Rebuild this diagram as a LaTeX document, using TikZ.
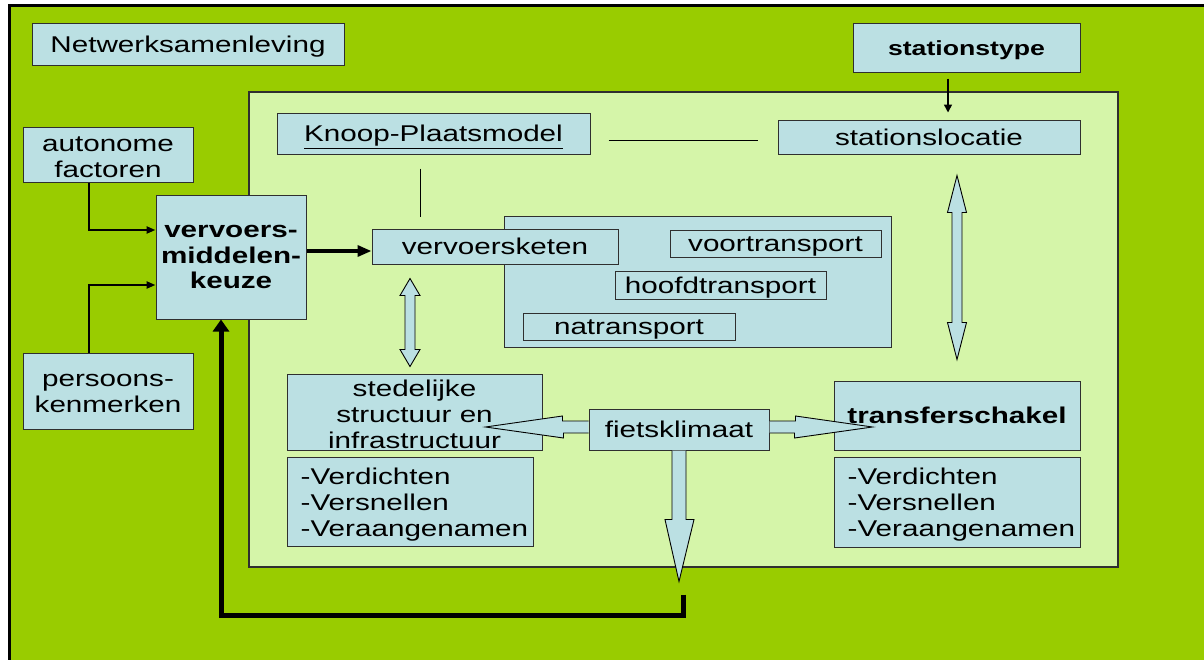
\documentclass[tikz,border=0pt]{standalone}
\usepackage{fontspec}
\setmainfont{Liberation Sans}[FakeStretch=1.3]
\usetikzlibrary{calc,arrows.meta}
\definecolor{outergreen}{HTML}{99CC00}
\definecolor{panelgreen}{HTML}{D5F5A9}
\definecolor{boxblue}{HTML}{BBE0E3}
\definecolor{boxline}{HTML}{2F2F2F}
\newcommand\vdblarrow[5]{%
  \draw[blockarrow] (#1) -- ++(#4,#5) -- ++({#3-#4},0) -- ($(#2)+(#3,-#5)$)
    -- ++({#4-#3},0) -- (#2) -- ++(-#4,-#5) -- ++({#4-#3},0)
    -- ($(#1)+(-#3,#5)$) -- ++({#3-#4},0) -- cycle;}
\tikzset{
  every node/.style={font=\fontsize{22.8pt}{26pt}\selectfont},
  box/.style={draw=boxline, line width=1pt, fill=boxblue, inner sep=0pt, align=center},
  one/.style={text height=16.5pt, text depth=0pt},
  txt/.style={inner sep=0pt, align=center},
  boldtext/.style={font=\fontsize{22.8pt}{25.5pt}\selectfont\bfseries},
  blockarrow/.style={draw=black, line width=0.9pt, fill=boxblue, line join=miter},
  thinline/.style={draw=black, line width=1pt},
  feed/.style={draw=black, line width=2.6pt, -{Triangle[length=9pt,width=7pt]}},
  panel/.style={draw=boxline, line width=1.3pt, fill=panelgreen, inner sep=0pt},
}
\begin{document}
\begin{tikzpicture}[x=1pt,y=-1pt]
\useasboundingbox (0,0) rectangle (1204,659);
\clip (0,0) rectangle (1204,659);
\fill[white] (0,0) rectangle (1204,659);
\draw[fill=outergreen, line width=3pt] (9,5.5) rectangle (1230,690);
\node[panel, minimum width=869pt, minimum height=475pt] (panel) at (683.5,329.5) {};

\node[box, one, minimum width=312pt, minimum height=42pt] (netw) at (188,44) {Netwerksamenleving};
\node[box, one, minimum width=227pt, minimum height=49pt, font=\fontsize{20.5pt}{24pt}\selectfont\bfseries] (stype) at (966.5,47.5) {stationstype};
\node[box, one, minimum width=313pt, minimum height=41pt] (knoop) at (433.5,133.5) {\underline{Knoop-Plaatsmodel}};
\node[box, one, minimum width=302pt, minimum height=34pt] (sloc) at (929,137) {stationslocatie};
\node[box, minimum width=170pt, minimum height=55pt] (auto) at (108,154.5) {};
\node[box, boldtext, minimum width=150pt, minimum height=124pt] (verv) at (231,257) {vervoers-\\middelen-\\keuze};
\node[box, minimum width=170pt, minimum height=76pt] (pers) at (108,391) {};
\node[txt] (autot) at ($(auto.center)+(0,2.5)$) {autonome\\factoren};
\node[txt] (perst) at ($(pers.center)+(0,2)$) {persoons-\\kenmerken};
\node[box, minimum width=387pt, minimum height=131pt] (big) at (697.5,281.5) {};
\node[box, one, minimum width=246pt, minimum height=35pt] (keten) at (495,246.5) {vervoersketen};
\node[box, one, minimum width=211pt, minimum height=27pt] (voor) at (775.5,243.5) {voortransport};
\node[box, one, minimum width=211pt, minimum height=28pt] (hoofd) at (720.5,285) {hoofdtransport};
\node[box, one, minimum width=212pt, minimum height=27pt] (na) at (629,326.5) {natransport};
\node[box, minimum width=255pt, minimum height=76pt] (sted) at (414.5,412) {};
\node[box, minimum width=246pt, minimum height=89pt] (verdL) at (410,501.5) {};
\node[box, one, minimum width=180pt, minimum height=41pt] (fiets) at (679,429.5) {fietsklimaat};
\node[box, minimum width=246pt, minimum height=69pt] (trans) at (957,415.5) {};
\node[box, minimum width=246pt, minimum height=90pt] (verdR) at (957,502) {};

\node[txt, align=left, anchor=west] (verdLt) at ($(verdL.west)+(14,3.5)$) {-Verdichten\\-Versnellen\\-Veraangenamen};
\node[txt, align=left, anchor=west] (verdRt) at ($(verdR.west)+(14,3)$) {-Verdichten\\-Versnellen\\-Veraangenamen};

% thin connectors
\draw[line width=1.5pt, -{Triangle[length=8pt,width=8pt]}] ($(stype.south)+(-18.5,6)$) -- ($(sloc.north)+(19,-7)$);
\draw[thinline] ($(knoop.east)+(18,6.5)$) -- ($(sloc.west)+(-20,3)$);
\draw[thinline] ($(knoop.south)+(-13.5,14)$) -- ($(keten.north)+(-75,-12)$);
\draw[feed] ($(auto.south)+(-19,0)$) |- ($(verv.west)+(0,-27)$);
\draw[feed] ($(pers.north)+(-19,0)$) |- ($(verv.west)+(0,28)$);
\draw[line width=3.3pt, -{Triangle[length=14pt,width=11pt]}] ($(verv.east)+(0,-6)$) -- ($(keten.west)+(0,4.5)$);
\draw[line width=5pt, line join=miter, -{Triangle[length=12pt,width=16pt]}] ($(fiets.south)+(4.5,144)$) -- ++(0,20.5) -| ($(verv.south)+(-10,0)$);

% block arrows
\coordinate (kt) at ($(keten.south)+(-85,14)$);
\coordinate (kb) at ($(sted.north)+(-4.5,-7)$);
\vdblarrow{kt}{kb}{5}{10}{17}
\coordinate (st) at ($(sloc.south)+(28,21)$);
\coordinate (sb) at ($(trans.north)+(0,-21)$);
\vdblarrow{st}{sb}{5}{9.5}{37}
\coordinate (lt) at ($(sted.east)+(-57,15)$);
\draw[blockarrow] ($(fiets.west)+(0,-8.5)$) -- ++(-26,0) -- ++(0,-5) -- (lt) -- ($(lt)+(78,11)$) -- ++(0,-5) -- ($(fiets.west)+(0,3.5)$);
\coordinate (rt) at ($(trans.west)+(39,11.5)$);
\draw[blockarrow] ($(fiets.east)+(0,-8.5)$) -- ++(26,0) -- ++(0,-5) -- (rt) -- ($(rt)+(-78,11)$) -- ++(0,-5) -- ($(fiets.east)+(0,3.5)$);
\coordinate (dt) at ($(fiets.south)+(0,131)$);
\draw[blockarrow] ($(fiets.south)+(-7,0)$) -- ++(0,69) -- ++(-7,0) -- (dt) -- ($(dt)+(15,-62)$) -- ++(-8,0) -- ($(fiets.south)+(7,0)$);

% texts on top of arrows
\node[txt] (stedt) at ($(sted.center)+(0,2)$) {stedelijke\\structuur en\\infrastructuur};
\node[txt, one, boldtext] (transt) at (trans.center) {transferschakel};
\end{tikzpicture}
\end{document}
